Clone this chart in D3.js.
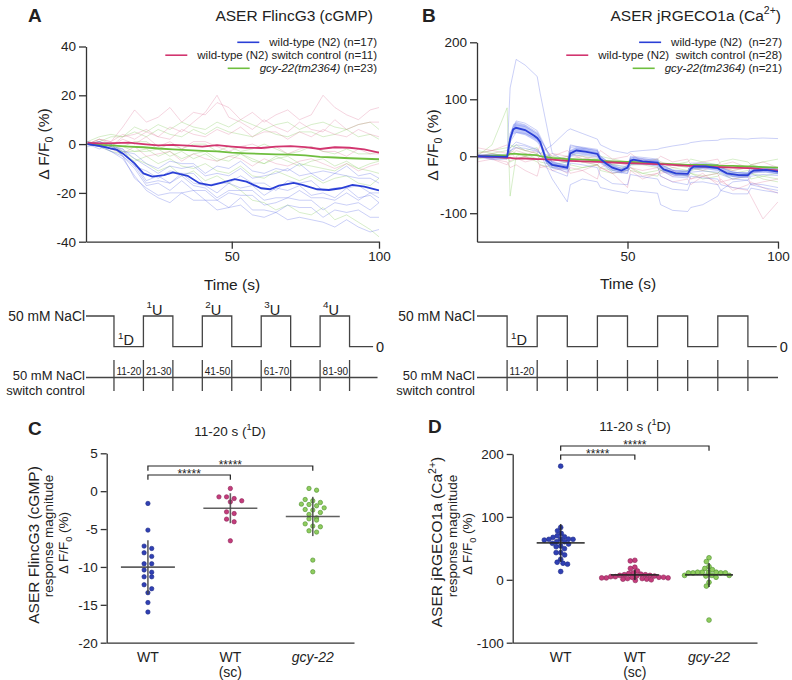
<!DOCTYPE html>
<html><head><meta charset="utf-8">
<script src="https://cdn.jsdelivr.net/npm/d3@7"></script>
<style>body{margin:0;background:#fff}svg{display:block}</style>
</head><body><script>
// ---------------- DATA ----------------
const aTime = [1,5,9,13,17,21,25,29,33,37,41,45,49,53,57,61,65,69,73,77,81,85,89,93,97,100];
const aBlueTraces = [
 [0,-1,-3,-6,-13,-19,-22,-24,-20,-23,-23,-27,-26,-25,-29,-30,-28,-31,-30,-31,-32,-34,-31,-34,-36,-35],
 [0,1,-1,-4,-8,-15,-13,-16,-12,-16,-17,-20,-16,-18,-17,-21,-18,-19,-17,-21,-20,-22,-18,-22,-21,-24],
 [1,0,-2,-2,-6,-9,-12,-9,-10,-9,-13,-12,-13,-10,-14,-13,-12,-10,-13,-12,-15,-12,-13,-14,-14,-16],
 [0,-2,0,-5,-10,-17,-16,-19,-15,-19,-19,-23,-20,-21,-21,-25,-24,-22,-23,-23,-27,-24,-25,-24,-27,-24],
 [0,1,0,-3,-4,-8,-10,-7,-8,-8,-12,-9,-10,-7,-11,-12,-10,-11,-8,-12,-11,-12,-9,-13,-12,-14],
 [-1,0,-3,-5,-14,-18,-21,-20,-20,-19,-23,-23,-26,-22,-27,-27,-28,-25,-26,-26,-30,-27,-28,-27,-30,-30],
 [0,-1,-1,-2,-9,-11,-14,-11,-12,-12,-17,-16,-16,-13,-16,-16,-19,-15,-16,-15,-19,-18,-18,-17,-20,-20],
 [1,-1,0,-5,-9,-16,-15,-16,-13,-17,-18,-22,-19,-19,-19,-23,-22,-22,-19,-22,-22,-23,-20,-23,-20,-22]
];
const aRedTraces = [
 [0,2,1,7,14,9,11,15,9,13,12,17,15,10,13,9,12,14,10,12,20,15,12,10,14,15],
 [0,1,-1,3,4,6,3,7,5,9,13,20,11,9,6,10,7,5,9,6,5,10,6,8,9,9],
 [0,1,-1,2,0,3,-1,1,-2,1,1,-1,-3,-1,0,-2,-1,-4,-2,-1,-3,-3,-5,-2,-4,-4],
 [1,0,-2,-4,-1,-5,-4,-3,-7,-4,-6,-7,-5,-6,-9,-6,-8,-9,-7,-6,-8,-10,-8,-11,-9,-8],
 [0,2,1,4,2,5,3,2,6,4,3,6,4,7,3,5,5,2,5,3,6,4,3,6,4,3]
];
const aGreenTraces = [
 [0,1,3,3,5,3,6,4,3,6,4,7,5,4,3,6,4,3,5,5,3,4,6,3,4,2],
 [0,0,-2,-1,-3,-3,-2,-5,-3,-6,-4,-7,-5,-4,-7,-8,-5,-7,-9,-7,-6,-9,-7,-10,-8,-7],
 [1,0,-2,-3,-6,-8,-11,-9,-13,-11,-15,-13,-16,-19,-23,-24,-27,-25,-28,-29,-26,-31,-29,-32,-35,-38],
 [0,2,0,-1,1,1,-2,0,-2,0,0,-3,-1,-3,-2,0,-2,-4,-3,-1,-3,-4,-2,-4,-4,-3],
 [0,-1,-3,-4,-7,-5,-8,-6,-9,-10,-8,-11,-12,-9,-13,-14,-11,-13,-15,-13,-16,-14,-13,-16,-17,-14],
 [1,3,4,3,7,5,8,6,9,7,6,9,7,10,8,6,8,9,6,8,9,7,6,8,9,6],
 [0,0,-1,-3,-3,-2,-5,-3,-6,-4,-3,-6,-7,-4,-6,-8,-6,-5,-8,-9,-10,-11,-8,-10,-11,-12]
];
const aBlueMeanT = [1,5,11,13,17,20,23,27,30,35,39,43,46,51,55,60,63,66,71,74,79,83,87,91,95,100];
const aBlueMean  = [0,-0.7,-2.4,-3.8,-7.9,-12,-13.3,-12.7,-11.6,-13,-16,-16.9,-16,-14.4,-15.4,-18.1,-18.5,-17,-15.9,-16.7,-18.5,-18.8,-18.1,-16.7,-17.4,-19];
const aMeanT     = [1,5,10,15,20,25,30,35,40,45,50,55,60,65,70,75,80,85,90,95,100];
const aRedMean   = [0.5,0.3,0.4,0.6,0,-0.5,-0.3,-0.6,-1,-0.4,-1,-1.5,-1.6,-1,-0.8,-1.2,-2,-1.3,-1.5,-2.2,-3.5];
const aGreenMean = [0,-0.3,-0.6,-1,-1.3,-1.8,-2.2,-2.5,-2.8,-3,-3.5,-3.8,-4,-4.2,-4.3,-4.6,-5.2,-5.5,-5.8,-6,-6.2];

const bTime = [0,5,10,11,13,16,20,21,25,30,31,35,40,41,45,50,51,55,60,61,65,70,71,75,80,81,85,90,91,95,100];
const bBlueTraces = [
 [0,3,0,120,170,160,140,110,5,-10,20,15,10,-10,-25,-30,-10,-12,-18,-35,-45,-50,-35,-38,-40,-50,-55,-58,-48,-50,-55],
 [0,-2,-3,40,62,58,45,35,-10,-18,15,14,10,0,-15,-18,-2,-4,-8,-14,-25,-27,-15,-14,-16,-20,-28,-30,-20,-20,-22],
 [3,1,0,25,42,40,30,22,-20,-28,0,2,-2,-12,-28,-30,-15,-14,-16,-24,-36,-38,-28,-26,-28,-32,-40,-42,-35,-32,-34],
 [0,-6,-5,15,25,20,12,5,-40,-80,-50,-40,-45,-55,-60,-65,-60,-62,-65,-85,-95,-97,-90,-85,-70,-60,-45,-42,-50,-55,-60],
 [0,-3,0,10,15,14,8,5,20,45,48,40,30,20,10,5,8,10,12,14,18,22,24,27,28,30,31,30,31,32,31],
 [-2,0,1,35,55,52,40,30,-5,-12,18,16,12,-5,-18,-22,0,-2,-5,-15,-24,-26,-12,-12,-15,-20,-28,-30,-18,-18,-20],
 [0,-4,-2,8,20,18,10,4,-25,-35,-12,-15,-20,-35,-48,-50,-32,-36,-40,-50,-58,-60,-46,-45,-50,-60,-66,-66,-56,-60,-64],
 [2,0,-1,30,60,55,42,32,-12,-22,10,12,6,-8,-22,-26,-5,-8,-10,-20,-32,-34,-20,-20,-22,-26,-35,-36,-28,-26,-30]
];
const bRedTraces = [
 [0,5,-2,8,-5,0,12,5,-10,0,-5,-10,-15,-20,-10,-15,-20,-25,-20,-30,-25,-35,-40,-30,-50,-45,-55,-60,-70,-110,-80],
 [-10,-5,-15,-8,-3,-10,-5,-20,-15,-30,-20,-25,-15,-20,-30,-25,-20,-35,-30,-25,-35,-30,-40,-35,-30,-45,-40,-35,-50,-45,-40],
 [5,10,5,0,10,5,0,-5,5,0,-5,0,-10,-5,-10,-15,-10,-5,-15,-10,-20,-15,-20,-25,-15,-20,-25,-20,-30,-25,-20],
 [0,-5,-10,-20,-15,-25,-35,-15,-25,-20,-30,-25,-40,-20,-30,-55,-25,-40,-30,-35,-45,-40,-50,-35,-45,-40,-60,-50,-45,-55,-65],
 [15,10,20,5,15,10,5,20,0,10,5,-5,0,10,-5,0,5,-10,-5,0,-10,-5,-15,-10,-5,-15,-10,-20,-15,-10,-20]
];
const bGreenTraces = [
 [0,20,85,-70,0,5,-5,0,-5,-10,-5,-10,-15,-10,-15,-20,-15,-15,-20,-25,-20,-25,-20,-25,-30,-25,-30,-25,-30,-35,-30],
 [5,10,15,20,15,10,5,0,-5,0,-5,-10,-5,-10,-15,-10,-15,-10,-15,-20,-15,-20,-25,-20,-15,-20,-25,-20,-15,-20,-25],
 [-5,0,-5,10,5,0,-5,-10,-15,-10,-15,-20,-15,-20,-25,-20,-25,-30,-25,-20,-30,-25,-30,-35,-30,-25,-35,-30,-40,-35,-40],
 [0,5,10,15,20,10,15,5,0,-5,5,0,-5,0,-5,-10,-5,-10,-5,-10,-15,-10,-5,-10,-15,-10,-5,-10,-15,-10,-5],
 [10,5,0,-10,-5,0,-10,-15,-20,-15,-25,-20,-15,-25,-30,-25,-20,-30,-35,-25,-30,-35,-30,-40,-35,-30,-40,-35,-30,-40,-45]
];
const bRedMean   = [0,-1,-3,-3,-4,-4,-5,-5,-6,-8,-8,-9,-10,-10,-11,-12,-12,-13,-14,-14,-15,-17,-17,-18,-19,-19,-20,-21,-21,-23,-25];
const bGreenMean = [0,1,2,4,4,3,2,0,-3,-5,-5,-6,-7,-8,-9,-10,-10,-11,-12,-13,-14,-15,-15,-15,-16,-17,-17,-18,-18,-19,-20];
const bBlueMeanT = [0,10,11,12,13,16,19,20,21,23,25,30,31,33,36,40,41,43,45,48,50,51,52,55,60,61,62,66,70,71,72,76,80,81,83,87,90,91,92,96,100];
const bBlueMean  = [0,-1,30,47,50,46,36,32,25,-7,-15,-20,5,10,8,4,-5,-13,-20,-25,-20,-8,-6,-9,-11,-18,-23,-30,-31,-22,-18,-18,-21,-24,-30,-33,-33,-28,-25,-24,-27];
const bBlueSem   = [3,4,8,9,9,9,8,8,8,6,6,5,6,6,6,5,6,6,5,5,5,5,5,5,5,5,5,5,5,5,5,5,5,5,5,5,5,5,5,5,5];

const stimTimes  = [0,10,20,30,40,50,60,70,80,90];
const stimLevels = [50,0,50,0,50,0,50,0,50,0];
const uLabels = ['1','2','3','4'];
const uTimes  = [20,40,60,80];
const winLabelsA = ['11-20','21-30','41-50','61-70','81-90'];
const winStartsA = [10,20,40,60,80];

const categories = ['WT','WT (sc)','gcy-22'];
const cWT   = [-1.62,-5.14,-7.25,-7.56,-8.13,-8.61,-9.58,-9.58,-10.4,-10.7,-11.3,-11.3,-12.35,-12.87,-13.4,-14.7,-15.95];
const cWTsc = [0.36,-0.75,-0.75,-0.97,-1.27,-1.41,-2.73,-2.95,-3.69,-4.04,-6.55];
const cGcy  = [0.36,0.13,-1.1,-1.27,-1.49,-1.71,-1.76,-1.93,-2.2,-2.42,-2.5,-2.81,-3.07,-3.52,-3.65,-3.82,-4.31,-4.61,-4.7,-5.23,-5.4,-9.1,-10.64];
const dWT   = [180.6,83.2,77.9,73.7,70,68.4,67.4,64.8,64.3,64.3,64.3,63.2,60.5,60.5,58,56.9,53.7,52.6,49.5,43.2,43.2,39.5,32.6,27.9,26.3,24.8,13.2];
const dWTsc = [31,30,20,18,14,11,10,9,8,8,7,7,6,6,5,5,4,4,4,3,3,3,2,2,1,1,0,-1];
const dGcy  = [35,29,21,18,16,12,12,12,12,11,11,11,11,7,7,7,6,4,-4,-10,-64];

const aYTicks = [-40,-20,0,20,40];
const bYTicks = [-100,0,100,200];
const xTicks  = [50,100];
const cYTicks = [-20,-15,-10,-5,0,5];
const dYTicks = [-100,0,100,200];

// ---------------- DRAWING ----------------
const FONT = '"Liberation Sans", Arial, Helvetica, sans-serif';
const INK = '#333';
const BLUE = '#2a3fd6', RED = '#d2356f', GREEN = '#6fbe3f';
const svg = d3.select('body').append('svg').attr('width',792).attr('height',680)
  .style('font-family',FONT).attr('fill','#222');

function rich(sel, parts, size){
  let shift = 0;
  parts.forEach(p=>{
    const [txt, mode] = typeof p === 'string' ? [p,'n'] : p;
    const ts = sel.append('tspan').text(txt);
    let target = 0, fs = size;
    if (mode==='sub'){ target = size*0.3; fs = size*0.68; }
    if (mode==='sup'){ target = -size*0.42; fs = size*0.68; }
    if (mode==='i') ts.attr('font-style','italic');
    ts.attr('font-size', fs);
    if (target !== shift){ ts.attr('dy', target-shift); shift = target; }
  });
  return sel;
}
function text(x,y,parts,size,anchor,extra){
  const t = svg.append('text').attr('x',x).attr('y',y).attr('font-size',size)
    .attr('text-anchor',anchor||'start').style('white-space','pre');
  if (extra) extra(t);
  return rich(t, parts, size);
}
function vtext(cx,cy,parts,size){
  const t = svg.append('text').attr('transform',`translate(${cx+size*0.36},${cy}) rotate(-90)`)
    .attr('font-size',size).attr('text-anchor','middle').style('white-space','pre');
  return rich(t, parts, size);
}
function styleAxis(g, fs){
  g.attr('font-family',FONT).attr('font-size',fs);
  g.select('.domain').attr('stroke',INK).attr('stroke-width',1.3);
  g.selectAll('.tick line').attr('stroke',INK).attr('stroke-width',1.3);
  g.selectAll('.tick text').attr('fill','#222');
}
const fmt = d=>String(d);

// ---- time-course panels ----
function tracePanel(o){
  const x = d3.scaleLinear().domain(o.xd).range(o.xr);
  const y = d3.scaleLinear().domain(o.yd).range(o.yr);
  const id = 'clip'+o.key;
  svg.append('clipPath').attr('id',id).append('rect')
    .attr('x',o.xr[0]).attr('y',o.yr[1]-2).attr('width',o.xr[1]-o.xr[0]).attr('height',o.yr[0]-o.yr[1]+2);
  const g = svg.append('g').attr('clip-path',`url(#${id})`);
  const line = d3.line().x(d=>x(d[0])).y(d=>y(d[1]));
  const zip = (t,v)=>t.map((tt,i)=>[tt,v[i]]);
  const draw = (arrs,t,col,op,w)=>arrs.forEach(a=>g.append('path').attr('d',line(zip(t,a)))
      .attr('fill','none').attr('stroke',col).attr('stroke-opacity',op).attr('stroke-width',w));
  draw(o.green,o.t,'#8fd06a',0.45,0.8);
  draw(o.red,o.t,'#e07a9c',0.4,0.8);
  draw(o.blue,o.t,'#5a6ce6',0.4,0.8);
  if (o.sem){
    const area = d3.area().x((d,i)=>x(o.blueMeanT[i])).y0((d,i)=>y(o.blueMean[i]-o.sem[i])).y1((d,i)=>y(o.blueMean[i]+o.sem[i]));
    g.append('path').attr('d',area(o.sem)).attr('fill','#6f82f0').attr('fill-opacity',0.45);
  }
  g.append('path').attr('d',line(zip(o.meanT,o.greenMean))).attr('fill','none').attr('stroke',GREEN).attr('stroke-width',1.8);
  g.append('path').attr('d',line(zip(o.meanT,o.redMean))).attr('fill','none').attr('stroke',RED).attr('stroke-width',1.8);
  g.append('path').attr('d',line(zip(o.blueMeanT,o.blueMean))).attr('fill','none').attr('stroke',BLUE).attr('stroke-width',1.8);

  const gy = svg.append('g').attr('transform',`translate(${o.xr[0]},0)`)
    .call(d3.axisLeft(y).tickValues(o.yticks).tickFormat(fmt).tickSize(7).tickSizeOuter(0).tickPadding(3));
  styleAxis(gy,13.5);
  const gx = svg.append('g').attr('transform',`translate(0,${o.yr[0]})`)
    .call(d3.axisBottom(x).tickValues(xTicks).tickFormat(fmt).tickSize(7).tickSizeOuter(0).tickPadding(3));
  styleAxis(gx,13.5);
  return x;
}

const xA = tracePanel({key:'A', xd:[0.5,100], xr:[86,379], yd:[-40,40], yr:[241.7,46.5], yticks:aYTicks,
  t:aTime, blue:aBlueTraces, red:aRedTraces, green:aGreenTraces,
  meanT:aMeanT, redMean:aRedMean, greenMean:aGreenMean, blueMeanT:aBlueMeanT, blueMean:aBlueMean});
const xB = tracePanel({key:'B', xd:[0,100], xr:[477,778], yd:[-150,200], yr:[241.7,42.3], yticks:bYTicks,
  t:bTime, blue:bBlueTraces, red:bRedTraces, green:bGreenTraces,
  meanT:bTime, redMean:bRedMean, greenMean:bGreenMean, blueMeanT:bBlueMeanT, blueMean:bBlueMean, sem:bBlueSem});

// titles, letters, labels
text(28,22,['A'],19,'start',t=>t.attr('font-weight','bold'));
text(422,22,['B'],19,'start',t=>t.attr('font-weight','bold'));
text(373,20.5,['ASER FlincG3 (cGMP)'],15.5,'end');
text(781,20.5,['ASER jRGECO1a (Ca',['2+','sup'],')'],15.5,'end');
text(232,290,['Time (s)'],15.5,'middle');
text(628,288.5,['Time (s)'],15.5,'middle');
vtext(43,144,['\u0394 F/F',['0','sub'],' (%)'],15.5);
vtext(432,145,['\u0394 F/F',['0','sub'],' (%)'],15.5);

function legend(xr, ys, entries){
  entries.forEach((e,i)=>{
    const t = text(xr, ys[i], e.parts, 11.5, 'end');
    const w = t.node().getComputedTextLength();
    svg.append('line').attr('x1',xr-w-32).attr('x2',xr-w-10).attr('y1',ys[i]-4).attr('y2',ys[i]-4)
      .attr('stroke',e.color).attr('stroke-width',1.6);
  });
}
legend(377,[46.3,59.2,72.3],[
  {color:BLUE, parts:['wild-type (N2) (n=17)']},
  {color:RED, parts:['wild-type (N2) switch control (n=11)']},
  {color:GREEN, parts:[['gcy-22(tm2364)','i'],' (n=23)']}]);
legend(782,[46.3,59.2,72.3],[
  {color:BLUE, parts:['wild-type (N2)  (n=27)']},
  {color:RED, parts:['wild-type (N2)  switch control (n=28)']},
  {color:GREEN, parts:[['gcy-22(tm2364)','i'],' (n=21)']}]);

// ---- stimulus diagrams ----
function stimulus(x, start, end, lineEnd, textRight, showU, winLabels, winStarts){
  const yS = d3.scaleLinear().domain([0,50]).range([346.7,316]);
  const pts = stimTimes.map((t,i)=>[i===0?start:t, stimLevels[i]]);
  pts.push([end, stimLevels[stimLevels.length-1]]);
  svg.append('path').attr('d', d3.line().curve(d3.curveStepAfter).x(d=>x(d[0])).y(d=>yS(d[1]))(pts))
    .attr('fill','none').attr('stroke','#444').attr('stroke-width',1.3);
  text(textRight,321,['50 mM NaCl'],13.8,'end');
  text(x(end)+3,352,['0'],14.5,'start');
  text(x(10)+4,345,[['1','sup'],'D'],14.5,'start');
  if (showU) uTimes.forEach((t,i)=>text(x(t)+3,314.5,[[uLabels[i],'sup'],'U'],14.5,'start'));
  // switch control row
  const yRow = 377.5;
  svg.append('line').attr('x1',x(start)).attr('x2',x(lineEnd)).attr('y1',yRow).attr('y2',yRow)
    .attr('stroke','#444').attr('stroke-width',1.3);
  stimTimes.slice(1).forEach(t=>svg.append('line').attr('x1',x(t)).attr('x2',x(t)).attr('y1',360).attr('y2',391)
    .attr('stroke','#444').attr('stroke-width',1.3));
  winLabels.forEach((l,i)=>text(x(winStarts[i])+2.5,374.5,[l],10,'start'));
  text(textRight,380,['50 mM NaCl'],13,'end');
  text(textRight,394.5,['switch control'],13,'end');
}
stimulus(xA, 0.5, 98, 99.5, 85, true, winLabelsA, winStartsA);
stimulus(xB, 0, 99.6, 100, 475, false, ['11-20'], [10]);

// ---- dot plots ----
function rowLayout(vals, y, r, s){
  const pts = vals.map(v=>({v, y:y(v)})).sort((a,b)=>a.y-b.y);
  const rows=[]; let cur=null;
  pts.forEach(p=>{ if(!cur || p.y-cur[0].y >= 2*r-0.4){ cur=[p]; rows.push(cur);} else cur.push(p); });
  rows.forEach(row=>{ const n=row.length; row.forEach((p,i)=>p.dx=(i-(n-1)/2)*s); });
  return pts;
}
function swarmLayout(vals, y, r, d){
  const pts = vals.map(v=>({v, y:y(v)})).sort((a,b)=>a.y-b.y);
  const placed=[];
  pts.forEach(p=>{
    const iv=[];
    placed.forEach(q=>{ const dy=Math.abs(q.y-p.y); if(dy<d){ const w=Math.sqrt(d*d-dy*dy); iv.push([q.dx-w,q.dx+w]); } });
    const c=[0]; iv.forEach(([a,b])=>c.push(a,b));
    c.sort((a,b)=>Math.abs(a)-Math.abs(b) || a-b);
    for (const k of c){ if (iv.every(([a,b])=>k<=a+1e-6 || k>=b-1e-6)){ p.dx=k; break; } }
    placed.push(p);
  });
  return pts;
}
const dotStyle = [
  {fill:'#3040b4', stroke:'#1f2b85'},
  {fill:'#c43c7c', stroke:'#8c2456'},
  {fill:'#8fcc5e', stroke:'#4e8f2f'}];

function dotPanel(o){
  const y = d3.scaleLinear().domain(o.yd).range(o.yr);
  const x = d3.scaleBand().domain(categories).range(o.xr).paddingInner(0).paddingOuter(o.po);
  const gy = svg.append('g').attr('transform',`translate(${o.xr[0]},0)`)
    .call(d3.axisLeft(y).tickValues(o.yticks).tickFormat(fmt).tickSize(6).tickSizeOuter(0).tickPadding(3));
  styleAxis(gy,13.5);
  const gx = svg.append('g').attr('transform',`translate(0,${o.yr[0]})`)
    .call(d3.axisBottom(x).tickSize(0).tickSizeOuter(0).tickFormat(''));
  styleAxis(gx,13.5);
  categories.forEach((c,i)=>{
    const cx = x(c)+x.bandwidth()/2;
    if (i===0) text(cx,o.yr[0]+19.5,['WT'],14,'middle');
    if (i===1){ text(cx,o.yr[0]+19.5,['WT'],14,'middle'); text(cx,o.yr[0]+34,['(sc)'],14,'middle'); }
    if (i===2) text(cx,o.yr[0]+19.5,[['gcy-22','i']],14,'middle');
    const vals = o.data[i];
    const pts = o.layout(vals, y);
    svg.append('g').selectAll('circle').data(pts).join('circle')
      .attr('cx',p=>cx+p.dx).attr('cy',p=>p.y).attr('r',o.r)
      .attr('fill',dotStyle[i].fill).attr('stroke',dotStyle[i].stroke).attr('stroke-width',0.6);
    const m = d3.mean(vals), sd = d3.deviation(vals);
    svg.append('line').attr('x1',cx-o.mw).attr('x2',cx+o.mw).attr('y1',y(m)).attr('y2',y(m))
      .attr('stroke',o.lineCol).attr('stroke-opacity',0.85).attr('stroke-width',1.6);
    svg.append('line').attr('x1',cx).attr('x2',cx).attr('y1',y(m+sd)).attr('y2',y(m-sd))
      .attr('stroke',o.lineCol).attr('stroke-opacity',0.85).attr('stroke-width',1.6);
  });
  // significance brackets
  const c0 = x(categories[0])+x.bandwidth()/2, c1 = x(categories[1])+x.bandwidth()/2, c2 = x(categories[2])+x.bandwidth()/2;
  const br = (xa,xb,yy,drop)=>svg.append('path').attr('d',`M${xa},${yy+drop}V${yy}H${xb}V${yy+drop}`)
    .attr('fill','none').attr('stroke','#222').attr('stroke-width',1.2);
  br(c0,c2,o.b1,4.7); br(c0,c1,o.b2,4.7);
  text((c0+c2)/2,o.b1+3,['*****'],12,'middle');
  text((c0+c1)/2,o.b2+3,['*****'],12,'middle');
  return x;
}
dotPanel({yd:[-20,5], yr:[642.7,453.3], xr:[106.7,354], po:0, yticks:cYTicks, data:[cWT,cWTsc,cGcy],
  r:2.2, mw:27, lineCol:'#444', b1:466, b2:475, layout:(v,y)=>rowLayout(v,y,2.2,7.6)});
dotPanel({yd:[-100,200], yr:[642.7,454], xr:[512.7,757], po:0.147, yticks:dYTicks, data:[dWT,dWTsc,dGcy],
  r:2.4, mw:24, lineCol:'#222', b1:446, b2:455, layout:(v,y)=>swarmLayout(v,y,2.4,4.6)});

text(28,435,['C'],19,'start',t=>t.attr('font-weight','bold'));
text(428,433,['D'],19,'start',t=>t.attr('font-weight','bold'));
text(230,436,['11-20 s (',['1','sup'],['D','n'],')'],13.5,'middle');
text(635,431,['11-20 s (',['1','sup'],['D','n'],')'],13.5,'middle');
vtext(33,545,['ASER FlincG3 (cGMP)'],15.5);
vtext(48,536,['response magnitude'],13.5);
vtext(63,543,['\u0394 F/F',['0','sub'],' (%)'],13.5);
vtext(436.7,542,['ASER jRGECO1a (Ca',['2+','sup'],')'],15.5);
vtext(451.7,536,['response magnitude'],13.5);
vtext(466.7,544,['\u0394 F/F',['0','sub'],' (%)'],13.5);
</script></body></html>
